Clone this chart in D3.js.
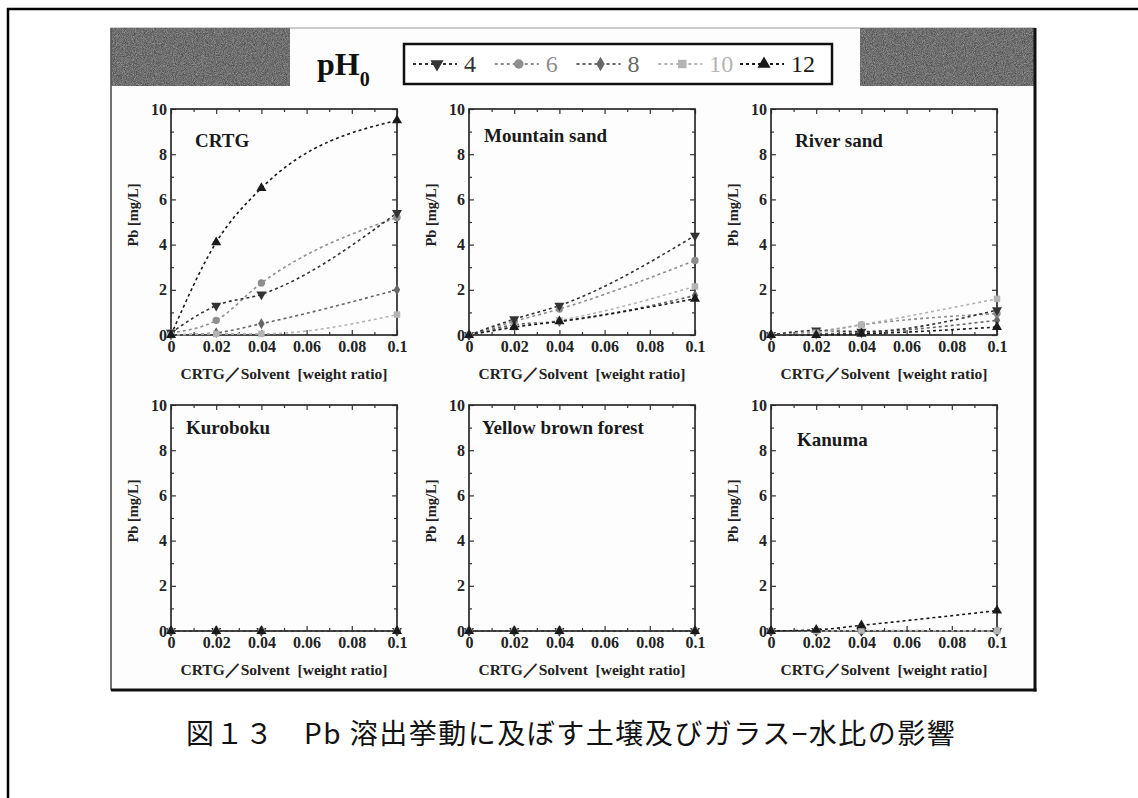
<!DOCTYPE html>
<html>
<head>
<meta charset="utf-8">
<script src="https://cdn.jsdelivr.net/npm/d3@7"></script>
<style>
  body { margin: 0; background: #fff; }
  svg { display: block; }
</style>
</head>
<body>
<script>
// x positions (CRTG / solvent weight ratio) where samples were taken
var xValues = [0, 0.02, 0.04, 0.1];
var phLevels = ["4", "6", "8", "10", "12"];
var soils = ["CRTG", "Mountain sand", "River sand", "Kuroboku", "Yellow brown forest", "Kanuma"];

// Pb [mg/L], one row per pH level (4, 6, 8, 10, 12)
var crtgValues = [
  [0.1, 1.3, 1.8, 5.4],
  [0.1, 0.65, 2.3, 5.2],
  [0, 0.1, 0.5, 2.0],
  [0, 0.05, 0.05, 0.9],
  [0, 4.1, 6.5, 9.5]
];
var mountainValues = [
  [0, 0.7, 1.3, 4.4],
  [0, 0.6, 1.15, 3.3],
  [0, 0.45, 0.6, 1.75],
  [0, 0.35, 0.65, 2.15],
  [0, 0.35, 0.6, 1.6]
];
var riverValues = [
  [0, 0.2, 0.15, 1.1],
  [0, 0.15, 0.45, 0.95],
  [0, 0.05, 0.1, 0.65],
  [0, 0.1, 0.45, 1.6],
  [0, 0, 0.05, 0.35]
];
var kurobokuValues = [
  [0, 0, 0, 0],
  [0, 0, 0, 0],
  [0, 0, 0, 0],
  [0, 0, 0, 0],
  [0, 0, 0, 0]
];
var yellowValues = [
  [0, 0, 0, 0],
  [0, 0, 0, 0],
  [0, 0, 0, 0],
  [0, 0, 0, 0],
  [0, 0, 0, 0]
];
var kanumaValues = [
  [0, 0, 0, 0],
  [0, 0, 0, 0],
  [0, 0, 0, 0],
  [0, 0, 0.02, 0],
  [0, 0.05, 0.25, 0.9]
];
var soilValues = [crtgValues, mountainValues, riverValues, kurobokuValues, yellowValues, kanumaValues];

var xTicks = [0, 0.02, 0.04, 0.06, 0.08, 0.1];
var xTickLabels = ["0", "0.02", "0.04", "0.06", "0.08", "0.1"];
var xMinor = [0.01, 0.03, 0.05, 0.07, 0.09];
var yTicks = [0, 2, 4, 6, 8, 10];
var yMinor = [1, 3, 5, 7, 9];

var colors = ["#333", "#8e8e8e", "#666", "#b4b4b4", "#1a1a1a"];
var shapes = [d3.symbolTriangle, d3.symbolCircle, d3.symbolDiamond, d3.symbolSquare, d3.symbolTriangle];
var flips = [180, 0, 0, 0, 0];
var sizes = [44, 42, 36, 42, 44];
var drawOrder = [2, 1, 0, 3, 4];

var serif = "'Liberation Serif', 'DejaVu Serif', serif";

var svg = d3.select("body").append("svg")
  .attr("width", 1138)
  .attr("height", 798);

var defs = svg.append("defs");
var noise = defs.append("filter").attr("id", "noise")
  .attr("x", 0).attr("y", 0).attr("width", "100%").attr("height", "100%")
  .attr("color-interpolation-filters", "sRGB");
noise.append("feTurbulence")
  .attr("type", "fractalNoise")
  .attr("baseFrequency", 1.1)
  .attr("numOctaves", 2)
  .attr("seed", 3);
noise.append("feColorMatrix")
  .attr("type", "matrix")
  .attr("values", "0.45 0 0 0 0.21  0.45 0 0 0 0.21  0.45 0 0 0 0.21  0 0 0 0 1");

// outer page frame
svg.append("line").attr("x1", 7).attr("x2", 1138).attr("y1", 9).attr("y2", 9)
  .attr("stroke", "#000").attr("stroke-width", 2.5);
svg.append("line").attr("x1", 8).attr("x2", 8).attr("y1", 8).attr("y2", 798)
  .attr("stroke", "#000").attr("stroke-width", 2.5);

// figure image area
var fig = { left: 111, top: 28, right: 1035, bottom: 690 };
svg.append("rect")
  .attr("x", fig.left).attr("y", fig.top)
  .attr("width", fig.right - fig.left).attr("height", fig.bottom - fig.top)
  .attr("fill", "#fdfdfd").attr("stroke", "#999").attr("stroke-width", 1);
svg.append("rect").attr("x", fig.left).attr("y", fig.top).attr("width", 179).attr("height", 58)
  .attr("filter", "url(#noise)");
svg.append("rect").attr("x", 860).attr("y", fig.top).attr("width", fig.right - 860).attr("height", 58)
  .attr("filter", "url(#noise)");
svg.append("line").attr("x1", fig.left).attr("x2", fig.left).attr("y1", fig.top).attr("y2", fig.bottom)
  .attr("stroke", "#555").attr("stroke-width", 1.5);
svg.append("line").attr("x1", fig.right).attr("x2", fig.right).attr("y1", fig.top).attr("y2", fig.bottom + 1.5)
  .attr("stroke", "#111").attr("stroke-width", 3);
svg.append("line").attr("x1", fig.left).attr("x2", fig.right + 1.5).attr("y1", fig.bottom).attr("y2", fig.bottom)
  .attr("stroke", "#111").attr("stroke-width", 3);

// pH0 heading
var ph = svg.append("text")
  .attr("x", 317).attr("y", 75)
  .attr("font-family", serif).attr("font-weight", "bold")
  .attr("font-size", 32).attr("fill", "#111");
ph.append("tspan").text("pH");
ph.append("tspan").attr("font-size", 20).attr("dy", 11).text("0");

// legend
var legendBox = { x: 404, y: 44, w: 428, h: 40 };
svg.append("rect")
  .attr("x", legendBox.x).attr("y", legendBox.y)
  .attr("width", legendBox.w).attr("height", legendBox.h)
  .attr("fill", "#fff").attr("stroke", "#111").attr("stroke-width", 2.5);
var lx = d3.scalePoint().domain(phLevels).range([437, 764]);
var legendY = 64;
phLevels.forEach(function(p, k) {
  var cx = lx(p);
  svg.append("line")
    .attr("x1", cx - 24).attr("x2", cx + 20)
    .attr("y1", legendY).attr("y2", legendY)
    .attr("stroke", colors[k]).attr("stroke-width", 2)
    .attr("stroke-dasharray", "3,3");
  svg.append("path")
    .attr("d", d3.symbol().type(shapes[k]).size(sizes[k] * 1.7)())
    .attr("transform", "translate(" + cx + "," + legendY + ") rotate(" + flips[k] + ")")
    .attr("fill", colors[k]);
  svg.append("text")
    .attr("x", cx + 27).attr("y", legendY + 8)
    .attr("font-family", serif).attr("font-size", 24)
    .attr("fill", colors[k])
    .text(p);
});

// panels
var colLeft = [171, 469, 771];
var rowTop = [109, 405];
var plotW = 226, plotH = 226;
var labelOffset = [[24, 38], [15, 33], [24, 38], [15, 29], [13, 29], [26, 41]];

soils.forEach(function(name, i) {
  var col = i % 3, row = Math.floor(i / 3);
  var left = colLeft[col], top = rowTop[row];
  var x = d3.scaleLinear().domain([0, 0.1]).range([left, left + plotW]);
  var y = d3.scaleLinear().domain([0, 10]).range([top + plotH, top]);
  var g = svg.append("g");

  function styleAxis(a) {
    a.select(".domain").remove();
    a.selectAll("line").attr("stroke", "#333").attr("stroke-width", 1.2);
    a.selectAll("text")
      .attr("font-family", serif).attr("font-weight", "bold")
      .attr("font-size", 16).attr("fill", "#222");
  }

  g.append("g").attr("transform", "translate(0," + (top + plotH) + ")")
    .call(d3.axisBottom(x).tickValues(xTicks)
      .tickFormat(function(d, j) { return xTickLabels[j]; })
      .tickSizeInner(-5).tickSizeOuter(0).tickPadding(6))
    .call(styleAxis);
  g.append("g").attr("transform", "translate(0," + (top + plotH) + ")")
    .call(d3.axisBottom(x).tickValues(xMinor).tickFormat("").tickSizeInner(-3).tickSizeOuter(0))
    .call(styleAxis);
  g.append("g").attr("transform", "translate(0," + top + ")")
    .call(d3.axisTop(x).tickValues(xTicks).tickFormat("").tickSizeInner(-5).tickSizeOuter(0))
    .call(styleAxis);
  g.append("g").attr("transform", "translate(0," + top + ")")
    .call(d3.axisTop(x).tickValues(xMinor).tickFormat("").tickSizeInner(-3).tickSizeOuter(0))
    .call(styleAxis);
  g.append("g").attr("transform", "translate(" + left + ",0)")
    .call(d3.axisLeft(y).tickValues(yTicks).tickSizeInner(-5).tickSizeOuter(0).tickPadding(4))
    .call(styleAxis);
  g.append("g").attr("transform", "translate(" + left + ",0)")
    .call(d3.axisLeft(y).tickValues(yMinor).tickFormat("").tickSizeInner(-3).tickSizeOuter(0))
    .call(styleAxis);
  g.append("g").attr("transform", "translate(" + (left + plotW) + ",0)")
    .call(d3.axisRight(y).tickValues(yTicks).tickFormat("").tickSizeInner(-5).tickSizeOuter(0))
    .call(styleAxis);
  g.append("g").attr("transform", "translate(" + (left + plotW) + ",0)")
    .call(d3.axisRight(y).tickValues(yMinor).tickFormat("").tickSizeInner(-3).tickSizeOuter(0))
    .call(styleAxis);

  g.append("rect")
    .attr("x", left).attr("y", top).attr("width", plotW).attr("height", plotH)
    .attr("fill", "none").attr("stroke", "#2a2a2a").attr("stroke-width", 1.7);

  var line = d3.line()
    .x(function(d, j) { return x(xValues[j]); })
    .y(function(d) { return y(d); })
    .curve(d3.curveMonotoneX);

  var values = soilValues[i];
  drawOrder.forEach(function(k) {
    g.append("path")
      .attr("d", line(values[k]))
      .attr("fill", "none")
      .attr("stroke", colors[k]).attr("stroke-width", 1.6)
      .attr("stroke-dasharray", "3,3");
  });
  drawOrder.forEach(function(k) {
    g.selectAll(null).data(values[k]).enter().append("path")
      .attr("d", d3.symbol().type(shapes[k]).size(sizes[k]))
      .attr("transform", function(d, j) {
        return "translate(" + x(xValues[j]) + "," + y(d) + ") rotate(" + flips[k] + ")";
      })
      .attr("fill", colors[k]);
  });

  g.append("text")
    .attr("x", left + labelOffset[i][0]).attr("y", top + labelOffset[i][1])
    .attr("font-family", serif).attr("font-weight", "bold")
    .attr("font-size", 19).attr("fill", "#1a1a1a")
    .text(name);

  g.append("text")
    .attr("x", left + plotW / 2).attr("y", top + plotH + 44)
    .attr("text-anchor", "middle")
    .attr("font-family", serif).attr("font-weight", "bold")
    .attr("font-size", 15.5).attr("fill", "#222")
    .text("CRTG\uFF0FSolvent\u00A0\u00A0[weight ratio]");

  g.append("text")
    .attr("transform", "translate(" + (left - 38) + "," + (top + plotH / 2 - 7) + ") rotate(-90)")
    .attr("text-anchor", "middle").attr("dy", "0.35em")
    .attr("font-family", serif).attr("font-weight", "bold")
    .attr("font-size", 14.5).attr("fill", "#222")
    .text("Pb [mg/L]");
});

// caption
svg.append("text")
  .attr("x", 186).attr("y", 744)
  .attr("font-family", "'Noto Sans CJK JP', sans-serif")
  .attr("font-size", 28).attr("fill", "#111")
  .attr("letter-spacing", 1.5)
  .text("図１３　Pb 溶出挙動に及ぼす土壌及びガラス−水比の影響");
</script>
</body>
</html>
